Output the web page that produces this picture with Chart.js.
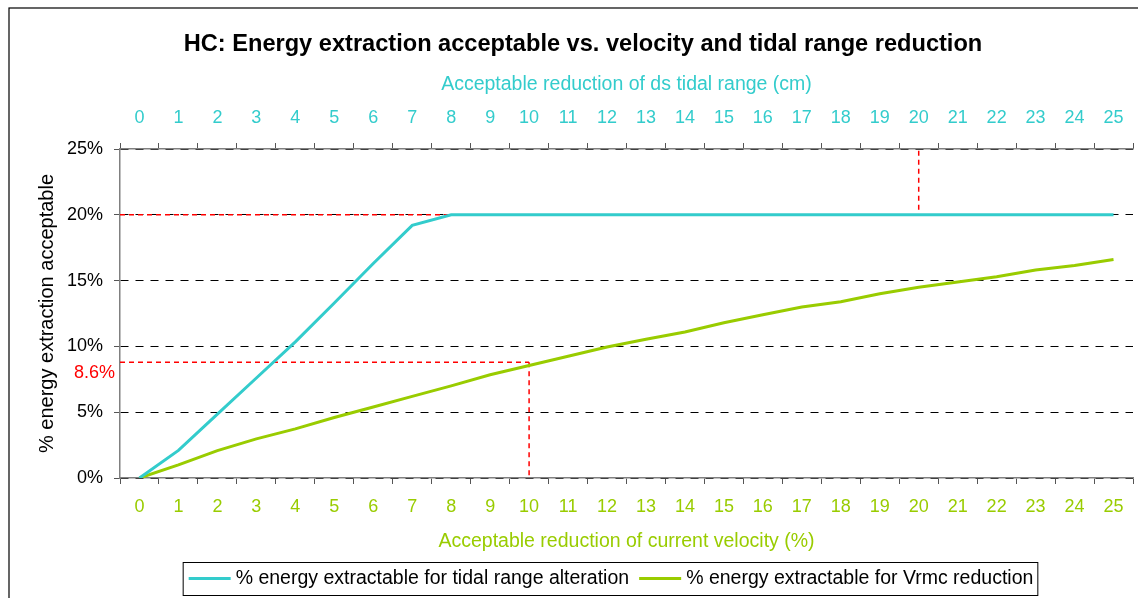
<!DOCTYPE html>
<html lang="en">
  <head>
    <meta charset="UTF-8" />
    <title>HC energy extraction</title>
    <script src="https://cdn.jsdelivr.net/npm/chart.js@4.4.1/dist/chart.umd.min.js"></script>
    <style>
      body { margin: 0; background: #fff; }
      .wrap { width: 1138px; height: 598px; position: relative; }
    </style>
  </head>
  <body>
    <div class="wrap"><canvas id="chart"></canvas></div>
    <script>
      // x categories (same on both axes)
      const reductions = ['0','1','2','3','4','5','6','7','8','9','10','11','12','13','14','15','16','17','18','19','20','21','22','23','24','25'];
      // % energy extractable
      const tidalRangeEnergy = [0, 2.1, 4.85, 7.6, 10.35, 13.3, 16.3, 19.2, 20, 20, 20, 20, 20, 20, 20, 20, 20, 20, 20, 20, 20, 20, 20, 20, 20, 20];
      const vrmcEnergy = [0, 1.0, 2.08, 2.97, 3.73, 4.6, 5.4, 6.2, 7.0, 7.85, 8.55, 9.25, 9.95, 10.55, 11.1, 11.8, 12.4, 13.0, 13.4, 14.0, 14.5, 14.9, 15.3, 15.8, 16.15, 16.6];
      const seriesNames = ['% energy extractable for tidal range alteration', '% energy extractable for Vrmc reduction'];
      // red reading lines: category, value, direction of the vertical part, label
      const refX = [20, 10];
      const refY = [20, 8.8];
      const refDir = ['up', 'down'];
      const refLabel = ['', '8.6%'];

      const CYAN = '#33CCCC';
      const GREEN = '#99CC00';
      const FONT = 'Arial, "Liberation Sans", sans-serif';
      Chart.defaults.font.family = FONT;
      Chart.defaults.font.size = 18;
      Chart.defaults.color = '#000';

      // border, red guide lines, boxed legend
      const extras = {
        id: 'extras',
        beforeDraw(chart) {
          const ctx = chart.ctx;
          ctx.save();
          ctx.fillStyle = '#fff';
          ctx.fillRect(0, 0, chart.width, chart.height);
          ctx.strokeStyle = '#000';
          ctx.lineWidth = 1.2;
          ctx.strokeRect(9, 8, chart.width + 20, chart.height + 20);
          ctx.restore();
        },
        beforeDatasetsDraw(chart) {
          const ctx = chart.ctx;
          const xs = chart.scales.x, ys = chart.scales.y;
          const area = chart.chartArea;
          ctx.save();
          ctx.strokeStyle = '#FF0000';
          ctx.lineWidth = 1.5;
          ctx.setLineDash([5, 4]);
          refX.forEach((cat, i) => {
            const px = xs.getPixelForValue(cat);
            const py = ys.getPixelForValue(refY[i]);
            ctx.beginPath();
            ctx.moveTo(area.left, py);
            ctx.lineTo(px, py);
            ctx.stroke();
            ctx.beginPath();
            if (refDir[i] === 'up') {
              ctx.moveTo(px, py - 5);
              ctx.lineTo(px, area.top);
            } else {
              ctx.moveTo(px, py);
              ctx.lineTo(px, area.bottom);
            }
            ctx.stroke();
            if (refLabel[i]) {
              ctx.fillStyle = '#FF0000';
              ctx.font = '18px ' + FONT;
              ctx.textAlign = 'right';
              ctx.textBaseline = 'middle';
              ctx.fillText(refLabel[i], area.left - 5, py + 11);
            }
          });
          ctx.restore();
        },
        afterDraw(chart) {
          const ctx = chart.ctx;
          const ds = chart.data.datasets;
          ctx.save();
          ctx.font = '19.5px ' + FONT;
          const widths = ds.map(d => ctx.measureText(d.label).width);
          const total = 6 + ds.length * 47 + widths.reduce((a, b) => a + b, 0) + (ds.length - 1) * 10 + 4;
          const left = 610 - total / 2;
          const top = 562, h = 33, cy = top + h / 2;
          ctx.strokeStyle = '#000';
          ctx.lineWidth = 1;
          ctx.strokeRect(left + 0.5, top + 0.5, total, h);
          let x = left + 6;
          ds.forEach((d, i) => {
            ctx.strokeStyle = d.borderColor;
            ctx.lineWidth = 3;
            ctx.beginPath();
            ctx.moveTo(x, cy);
            ctx.lineTo(x + 42, cy);
            ctx.stroke();
            ctx.fillStyle = '#000';
            ctx.textAlign = 'left';
            ctx.textBaseline = 'middle';
            ctx.fillText(d.label, x + 47, cy);
            x += 47 + widths[i] + 10;
          });
          ctx.restore();
        }
      };

      const chart = new Chart(document.getElementById('chart'), {
        type: 'line',
        data: {
          labels: reductions,
          datasets: [
            {
              label: seriesNames[0],
              data: tidalRangeEnergy,
              borderColor: CYAN,
              backgroundColor: CYAN,
              borderWidth: 3,
              pointRadius: 0,
              tension: 0,
              xAxisID: 'x'
            },
            {
              label: seriesNames[1],
              data: vrmcEnergy,
              borderColor: GREEN,
              backgroundColor: GREEN,
              borderWidth: 3,
              pointRadius: 0,
              tension: 0,
              xAxisID: 'x'
            }
          ]
        },
        options: {
          responsive: true,
          maintainAspectRatio: false,
          animation: false,
          layout: { padding: { left: 33, right: 5, top: 0, bottom: 43 } },
          plugins: {
            legend: { display: false },
            tooltip: { enabled: false },
            title: {
              display: true,
              text: 'HC: Energy extraction acceptable vs. velocity and tidal range reduction',
              color: '#000',
              font: { size: 23.6, weight: 'bold' },
              padding: { top: 30.5, bottom: 6.2 }
            }
          },
          scales: {
            x: {
              type: 'category',
              position: 'bottom',
              offset: true,
              grid: { drawOnChartArea: false, offset: true, tickLength: 6, tickColor: '#555' },
              border: { color: '#808080', width: 1.5 },
              ticks: { color: GREEN, padding: 12, maxRotation: 0, autoSkip: false },
              title: { display: true, text: 'Acceptable reduction of current velocity (%)', color: GREEN, font: { size: 19.5 }, padding: { top: 2, bottom: 2 } },
              afterFit(scale) { scale.height = 77; }
            },
            x2: {
              type: 'category',
              position: 'top',
              offset: true,
              grid: { drawOnChartArea: false, offset: true, tickLength: 6, tickColor: '#555' },
              border: { color: '#808080', width: 1.5 },
              ticks: { color: CYAN, padding: 14, maxRotation: 0, autoSkip: false },
              title: { display: true, text: 'Acceptable reduction of ds tidal range (cm)', color: CYAN, font: { size: 19.5 }, padding: { top: 8, bottom: 2 } },
              afterFit(scale) { scale.height = 84; }
            },
            y: {
              min: 0,
              max: 25,
              ticks: { stepSize: 5, padding: 11, color: '#000', callback: v => v + '%' },
              grid: { color: '#000', tickColor: '#555', tickLength: 6, tickBorderDash: [] },
              border: { color: '#808080', width: 1.5, dash: [8, 7] },
              title: { display: true, text: '% energy extraction acceptable', color: '#000', font: { size: 20 }, padding: { top: 2, bottom: 2 } },
              afterFit(scale) { scale.width = 87; }
            }
          }
        },
        plugins: [extras]
      });
    </script>
  </body>
</html>
